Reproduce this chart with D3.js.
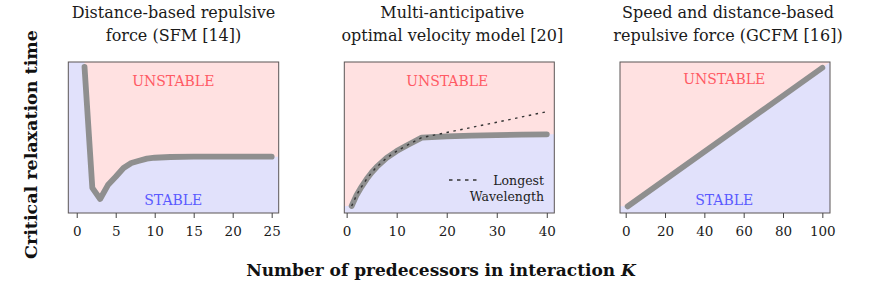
<!DOCTYPE html>
<html>
<head>
<meta charset="utf-8">
<script src="https://cdn.jsdelivr.net/npm/d3@7"></script>
<style>
  body { margin: 0; background: #fff; }
  svg { display: block; font-family: "DejaVu Serif", serif; }
</style>
</head>
<body>
<div id="chart"></div>
<script>
// dane (tau w jednostkach umownych, 0..1 = wysokość ramki)
const sfmK = [1, 2, 3, 4, 5, 6, 7, 8, 9, 10, 12, 15, 20, 25];
const sfmTau = [0.967, 0.166, 0.093, 0.185, 0.240, 0.298, 0.331, 0.346, 0.360, 0.366, 0.371, 0.373, 0.373, 0.373];

const movmK = [1, 2, 3, 4, 5, 6, 8, 10, 12, 15, 20, 25, 30, 35, 40];
const movmTau = [0.046, 0.120, 0.175, 0.225, 0.268, 0.305, 0.365, 0.410, 0.447, 0.499, 0.507, 0.512, 0.516, 0.519, 0.521];
const movmLongest = [0.046, 0.120, 0.175, 0.225, 0.268, 0.305, 0.365, 0.410, 0.447, 0.499, 0.533, 0.567, 0.601, 0.636, 0.671];

const gcfmK = [1, 100];
const gcfmTau = [0.044, 0.962];

const titles = [
  ["Distance-based repulsive", "force (SFM [14])"],
  ["Multi-anticipative", "optimal velocity model [20]"],
  ["Speed and distance-based", "repulsive force (GCFM [16])"]
];
const ticks1 = [0, 5, 10, 15, 20, 25];
const ticks2 = [0, 10, 20, 30, 40];
const ticks3 = [0, 20, 40, 60, 80, 100];

const width = 886;
const height = 290;
const frameTop = 62, frameBottom = 213;
const pink = "#ffe1e1", blue = "#e1e1fb";
const lineColor = "#8f8f8f";
const serif = "'DejaVu Serif', serif";

const svg = d3.select("#chart").append("svg")
  .attr("width", width)
  .attr("height", height)
  .attr("font-family", serif);

const y = d3.scaleLinear().domain([0, 1]).range([frameBottom, frameTop]);

const panels = [
  { x0: 68.3, x1: 278.7, domain: [-1.08, 25.9], ticks: ticks1, title: titles[0], back: blue, front: pink,
    lab: { u: [173.3, 86], s: [173.3, 205] } },
  { x0: 344.3, x1: 554.3, domain: [-0.47, 41.5], ticks: ticks2, title: titles[1], back: pink, front: blue,
    lab: { u: [447.2, 86] } },
  { x0: 620, x1: 830, domain: [-2.9, 103.9], ticks: ticks3, title: titles[2], back: pink, front: blue,
    lab: { u: [724.2, 83.5], s: [724.2, 205] } }
];

panels.forEach((p, i) => {
  p.x = d3.scaleLinear().domain(p.domain).range([p.x0, p.x1]);
  const g = svg.append("g");

  // tło
  g.append("rect")
    .attr("x", p.x0).attr("y", frameTop)
    .attr("width", p.x1 - p.x0).attr("height", frameBottom - frameTop)
    .attr("fill", p.back);

  const [dmin, dmax] = p.domain;
  let ks, ts, poly;
  if (i === 0) {
    ks = sfmK; ts = sfmTau;
    // obszar niestabilny nad krzywą
    poly = [[ks[0], 1]].concat(ks.map((k, j) => [k, ts[j]]))
      .concat([[dmax, ts[ts.length - 1]], [dmax, 1]]);
  } else if (i === 1) {
    ks = movmK; ts = movmTau;
    poly = [[dmin, ts[0]]].concat(ks.map((k, j) => [k, ts[j]]))
      .concat([[dmax, ts[ts.length - 1]], [dmax, 0], [dmin, 0]]);
  } else {
    ks = gcfmK; ts = gcfmTau;
    poly = [[dmin, 0], [dmin, ts[0]]].concat(ks.map((k, j) => [k, ts[j]]))
      .concat([[dmax, 1], [dmax, 0]]);
  }

  g.append("path")
    .attr("d", d3.line().x(d => p.x(d[0])).y(d => y(d[1]))(poly) + "Z")
    .attr("fill", p.front);

  // etykiety obszarów
  g.append("text")
    .attr("x", p.lab.u[0]).attr("y", p.lab.u[1])
    .attr("text-anchor", "middle")
    .attr("font-size", 14)
    .attr("fill", "#ff5a64")
    .text("UNSTABLE");
  if (p.lab.s) {
    g.append("text")
      .attr("x", p.lab.s[0]).attr("y", p.lab.s[1])
      .attr("text-anchor", "middle")
      .attr("font-size", 14)
      .attr("fill", "#5a5aff")
      .text("STABLE");
  }

  // krzywa krytyczna
  g.append("path")
    .datum(ks.map((k, j) => [k, ts[j]]))
    .attr("d", d3.line().x(d => p.x(d[0])).y(d => y(d[1])))
    .attr("fill", "none")
    .attr("stroke", lineColor)
    .attr("stroke-width", 5.8)
    .attr("stroke-linecap", "round")
    .attr("stroke-linejoin", "round");

  if (i === 1) {
    g.append("path")
      .datum(movmK.map((k, j) => [k, movmLongest[j]]))
      .attr("d", d3.line().x(d => p.x(d[0])).y(d => y(d[1])))
      .attr("fill", "none")
      .attr("stroke", "#333")
      .attr("stroke-width", 1.4)
      .attr("stroke-dasharray", "2.5,4.5");

    // legenda
    g.append("line")
      .attr("x1", 449).attr("x2", 477).attr("y1", 180).attr("y2", 180)
      .attr("stroke", "#333")
      .attr("stroke-width", 1.4)
      .attr("stroke-dasharray", "3.5,4.5");
    g.append("text")
      .attr("x", 544).attr("y", 184.5)
      .attr("text-anchor", "end")
      .attr("font-size", 12.5)
      .attr("fill", "#222")
      .text("Longest");
    g.append("text")
      .attr("x", 544).attr("y", 200.5)
      .attr("text-anchor", "end")
      .attr("font-size", 12.5)
      .attr("fill", "#222")
      .text("Wavelength");
  }

  // ramka
  g.append("rect")
    .attr("x", p.x0).attr("y", frameTop)
    .attr("width", p.x1 - p.x0).attr("height", frameBottom - frameTop)
    .attr("fill", "none")
    .attr("stroke", "#5b5555")
    .attr("stroke-width", 1);

  // oś X
  const ax = g.append("g")
    .attr("transform", "translate(0," + frameBottom + ")")
    .call(d3.axisBottom(p.x).tickValues(p.ticks).tickSize(5).tickSizeOuter(0).tickPadding(8));
  ax.attr("font-family", serif).attr("font-size", 13.5);
  ax.select(".domain").remove();
  ax.selectAll(".tick line").attr("stroke", "#444");
  ax.selectAll(".tick text").attr("fill", "#1a1a1a");

  // tytuł
  const cx = (p.x0 + p.x1) / 2 + (i === 0 ? 0 : 3);
  p.title.forEach((t, j) => {
    svg.append("text")
      .attr("x", cx).attr("y", 17.5 + j * 23.3)
      .attr("text-anchor", "middle")
      .attr("font-size", 16)
      .attr("fill", "#1a1a1a")
      .text(t);
  });
});

// opisy osi
svg.append("text")
  .attr("transform", "translate(37,144.5) rotate(-90)")
  .attr("text-anchor", "middle")
  .attr("font-size", 17.5)
  .attr("font-weight", "bold")
  .attr("fill", "#111")
  .text("Critical relaxation time");

const xl = svg.append("text")
  .attr("x", 441).attr("y", 275.5)
  .attr("text-anchor", "middle")
  .attr("font-size", 17)
  .attr("font-weight", "bold")
  .attr("fill", "#111");
xl.append("tspan").text("Number of predecessors in interaction ");
xl.append("tspan").attr("font-style", "italic").text("K");
</script>
</body>
</html>
